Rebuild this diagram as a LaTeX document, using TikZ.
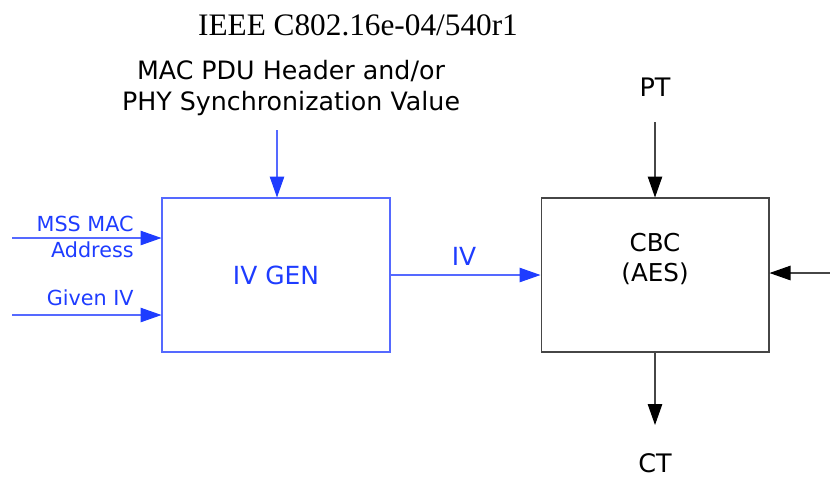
\documentclass[tikz,border=0pt]{standalone}
\usepackage{fontspec}
\setsansfont{DejaVu Sans}
\newfontfamily\hdrfont{Liberation Serif}
\usepackage{xcolor}
\usetikzlibrary{arrows.meta,positioning,calc}

\definecolor{ivblue}{RGB}{30,60,255}
\definecolor{ivline}{RGB}{85,105,255}
\definecolor{boxgray}{RGB}{70,70,70}

\begin{document}
\begin{tikzpicture}[
    x=0.02cm, y=-0.02cm,
    block/.style={rectangle,draw,line width=0.6pt,minimum width=4.56cm,minimum height=3.08cm,
                  inner sep=0pt,text centered},
    bigtxt/.style={font=\sffamily\fontsize{14.2}{17}\selectfont,align=center,inner sep=0pt},
    smalltxt/.style={font=\sffamily\fontsize{11.8}{14.8}\selectfont,align=right,inner sep=0pt,text=ivblue},
    arr/.style={-{Triangle[length=0.42cm,width=0.29cm,color=black]},line width=0.6pt},
    barr/.style={arr,draw=ivline,-{Triangle[length=0.42cm,width=0.29cm,color=ivblue]}}
]
\useasboundingbox (0,0) rectangle (830,488);

\node[font=\hdrfont\fontsize{17.8}{20}\selectfont,inner sep=0pt] (title) at (358,25) {IEEE C802.16e-04/540r1};

% blocks
\node[block,draw=ivline,text=ivblue,font=\sffamily\fontsize{14.2}{17}\selectfont] (ivgen) at (276,275) {IV GEN};
\node[block,draw=boxgray] (cbc) at (655,275) {};
\node[bigtxt,font=\sffamily\fontsize{14}{17}\selectfont] (cbctext) at (655,259) {CBC\\(AES)};

% labels
\node[bigtxt,font=\sffamily\fontsize{14.4}{17.6}\selectfont] (hdr) at (291,88) {MAC PDU Header and/or\\PHY Synchronization Value};
\node[bigtxt,font=\sffamily\fontsize{14.5}{17}\selectfont] (pt) at (655,87) {PT};
\node[bigtxt,font=\sffamily\fontsize{14.5}{17}\selectfont] (ct) at (655,463) {CT};
\node[smalltxt,anchor=east] (mss) at (134,237) {MSS MAC\\Address};
\node[smalltxt,anchor=east] (given) at (134,298) {Given IV};
\node[bigtxt,text=ivblue] (iv) at (464,256) {IV};

\coordinate (hdrin) at (277,130);
\coordinate (mssin) at (12,238);
\coordinate (givenin) at (12,315);
\coordinate (ptin) at (655,122);
\coordinate (ctout) at (655,425);
\coordinate (keyin) at (830,273);

\draw[barr] (hdrin) -- (hdrin |- ivgen.north);
\draw[barr] (mssin) -- (mssin -| ivgen.west);
\draw[barr] (givenin) -- (givenin -| ivgen.west);
\draw[barr] (ivgen.east) -- (cbc.west);
\draw[arr,draw=boxgray] (ptin) -- (cbc.north);
\draw[arr,draw=boxgray] (cbc.south) -- (ctout);
\draw[arr,draw=boxgray] (keyin) -- (keyin -| cbc.east);
\end{tikzpicture}
\end{document}
